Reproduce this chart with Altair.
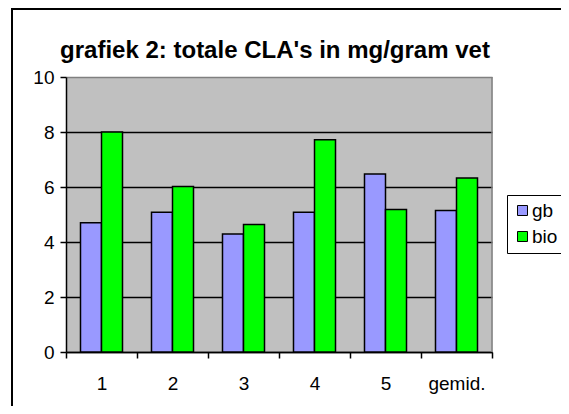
import altair as alt
import pandas as pd

categories = ["1", "2", "3", "4", "5", "gemid."]
series = ["gb", "bio"]
gb_values = [4.7, 5.08, 4.29, 5.08, 6.47, 5.15]
bio_values = [8.0, 6.02, 4.64, 7.72, 5.18, 6.33]
colors = ["#9999FF", "#00FF00"]
y_ticks = [0, 2, 4, 6, 8, 10]
title_text = "grafiek 2: totale CLA's in mg/gram vet"

rows = []
for i, c in enumerate(categories):
    rows.append({"cat": c, "series": "gb", "value": gb_values[i]})
    rows.append({"cat": c, "series": "bio", "value": bio_values[i]})
df = pd.DataFrame(rows)

W, H = 426, 275
FONT = "Liberation Sans"

bars = alt.Chart(df).mark_bar(stroke="black", strokeWidth=1.5).encode(
    x=alt.X(
        "cat:N",
        sort=categories,
        scale=alt.Scale(paddingInner=0, paddingOuter=0),
        axis=alt.Axis(
            title=None, labelAngle=0, tickBand="extent", tickSize=6,
            tickColor="black", tickWidth=1.5, domainColor="black", domainWidth=1.5,
            labelFontSize=19, labelFont=FONT, labelColor="black", labelPadding=16,
            grid=False,
        ),
    ),
    xOffset=alt.XOffset(
        "series:N", sort=series,
        scale=alt.Scale(domain=series, paddingInner=0, paddingOuter=0.69),
    ),
    y=alt.Y(
        "value:Q",
        scale=alt.Scale(domain=[0, 10], nice=False),
        axis=alt.Axis(
            values=y_ticks, title=None, tickSize=6, tickColor="black", tickWidth=1.5,
            domainColor="black", domainWidth=1.5, labelFontSize=19, labelFont=FONT,
            labelColor="black", labelPadding=6, grid=True, gridWidth=1.5,
            gridColor={"condition": {"test": "datum.value >= 10", "value": "#808080"}, "value": "black"},
        ),
    ),
    color=alt.Color(
        "series:N",
        sort=series,
        scale=alt.Scale(domain=series, range=colors),
        legend=alt.Legend(
            title=None, orient="none", legendX=441, legendY=118, direction="vertical",
            strokeColor="black", fillColor="white", padding=6, symbolType="square",
            symbolSize=100, symbolStrokeColor="black", symbolStrokeWidth=1,
            symbolOpacity=1, labelFontSize=19, labelFont=FONT, labelColor="black",
            labelOffset=0, rowPadding=6,
        ),
    ),
)

deco = pd.DataFrame({"k": [0]})
right_border = alt.Chart(deco).mark_rule(color="#808080", strokeWidth=1.5).encode(
    x=alt.value(W), y=alt.value(0), y2=alt.value(H)
)
frame_top = alt.Chart(deco).mark_rule(color="black", strokeWidth=2).encode(
    x=alt.value(-54), x2=alt.value(520), y=alt.value(-68)
)
frame_left = alt.Chart(deco).mark_rule(color="black", strokeWidth=2).encode(
    x=alt.value(-54), y=alt.value(-69), y2=alt.value(H + 80)
)

chart = alt.layer(bars, right_border, frame_top, frame_left).properties(
    width=W,
    height=H,
    autosize=alt.AutoSizeParams(type="none"),
    padding={"left": 58, "top": 69, "right": 69, "bottom": 54},
    background="white",
    title=alt.Title(
        title_text, fontSize=24, font=FONT, fontWeight="bold", color="black",
        anchor="middle", dx=-4, offset=-56,
    ),
).configure_view(fill="#C0C0C0", stroke="transparent")

chart.save("out.html", embed_options={"renderer": "svg", "actions": False})
